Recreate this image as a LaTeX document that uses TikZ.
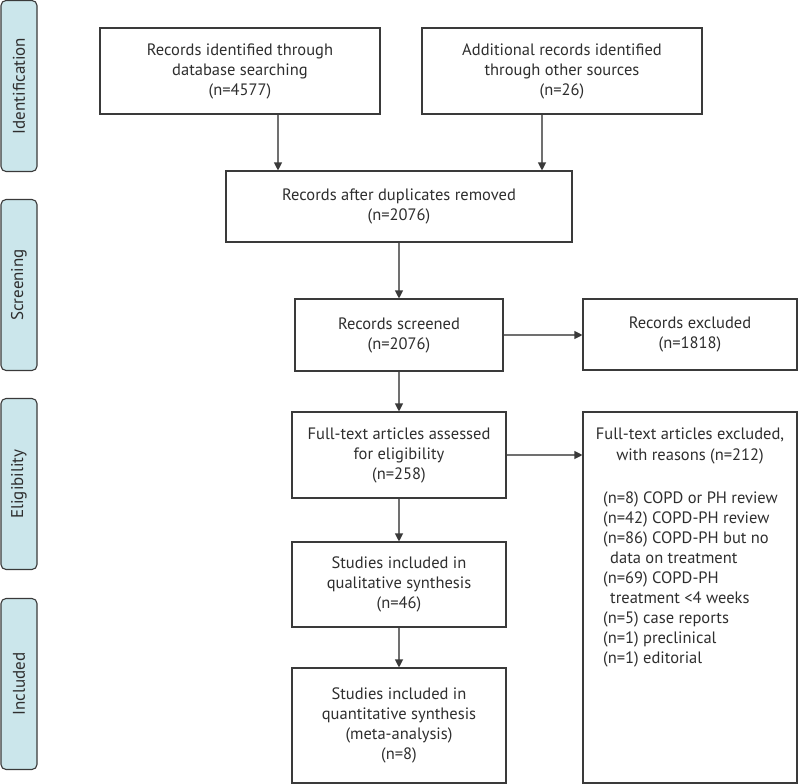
\documentclass[tikz,border=0pt]{standalone}
\usepackage{fontspec}
\setmainfont{PT Sans}
\usetikzlibrary{arrows.meta}
\definecolor{sidefill}{HTML}{CBE6EB}
\definecolor{boxline}{HTML}{3A3A3A}
\definecolor{arrline}{HTML}{707070}
\definecolor{txt}{HTML}{2E2E2E}
\begin{document}
\begin{tikzpicture}[x=1pt,y=-1pt,
  every node/.style={font=\fontsize{16.5}{20}\selectfont, text=txt},
  sidebox/.style={draw=boxline, line width=1.1pt, fill=sidefill, rounded corners=5pt,
     minimum width=36pt, minimum height=171pt, inner sep=0pt},
  sidelabel/.style={rotate=90, font=\fontsize{17}{20}\selectfont},
  mainbox/.style={draw=boxline, line width=1.1pt, align=center, inner sep=0pt},
  arr/.style={draw=arrline, line width=1.1pt, -{Triangle[length=8pt,width=8pt,color=boxline]}}
]
\useasboundingbox (0,0) rectangle (798,784);
% side boxes
\node[sidebox] (id) at (19,86) {};
\node[sidelabel] at (id.center) {Identification};
\node[sidebox] (scr) at (19,285) {};
\node[sidelabel] at (scr.center) {Screening};
\node[sidebox] (eli) at (19,484) {};
\node[sidelabel] at (eli.center) {Eligibility};
\node[sidebox] (inc) at (19,684) {};
\node[sidelabel] at (inc.center) {Included};
% main boxes
\node[mainbox, minimum width=280pt, minimum height=86pt] (A) at (240,71)
  {Records identified through\\database searching\\(n=4577)};
\node[mainbox, minimum width=280pt, minimum height=86pt] (B) at (562,71)
  {Additional records identified\\through other sources\\(n=26)};
\node[mainbox, minimum width=346pt, minimum height=71pt] (C) at (399,206.5)
  {Records after duplicates removed\\(n=2076)};
\node[mainbox, minimum width=208pt, minimum height=72pt] (D) at (399,335)
  {Records screened\\(n=2076)};
\node[mainbox, minimum width=214pt, minimum height=71pt] (E) at (690,334.5)
  {Records excluded\\(n=1818)};
\node[mainbox, minimum width=214pt, minimum height=86pt] (F) at (399,455)
  {Full-text articles assessed\\for eligibility\\(n=258)};
\node[mainbox, minimum width=214pt, minimum height=371pt] (G) at (690,597.5) {};
\node[align=center, anchor=north, inner sep=0pt] (Gt) at (690,428)
  {Full-text articles excluded,\\[1pt]with reasons (n=212)};
\node[align=left, anchor=north west, inner sep=0pt] (Gl) at (603,492)
  {(n=8) COPD or PH review\\
   (n=42) COPD-PH review\\
   (n=86) COPD-PH but no\\
   \hspace*{7pt}data on treatment\\
   (n=69) COPD-PH\\
   \hspace*{7pt}treatment <4 weeks\\
   (n=5) case reports\\
   (n=1) preclinical\\
   (n=1) editorial};
\node[mainbox, minimum width=214pt, minimum height=85pt] (H) at (399,584.5)
  {Studies included in\\qualitative synthesis\\(n=46)};
\node[mainbox, minimum width=214pt, minimum height=115pt] (I) at (399,725.5)
  {Studies included in\\quantitative synthesis\\(meta-analysis)\\(n=8)};
% connectors
\coordinate (xa) at (278,0);
\coordinate (xb) at (542,0);
\draw[arr] (A.south -| xa) -- (C.north -| xa);
\draw[arr] (B.south -| xb) -- (C.north -| xb);
\draw[arr] (C.south) -- (D.north);
\draw[arr] (D.east) -- (E.west |- D.east);
\draw[arr] (D.south) -- (F.north);
\draw[arr] (F.east) -- (G.west |- F.east);
\draw[arr] (F.south) -- (H.north);
\draw[arr] (H.south) -- (I.north);
\end{tikzpicture}
\end{document}
